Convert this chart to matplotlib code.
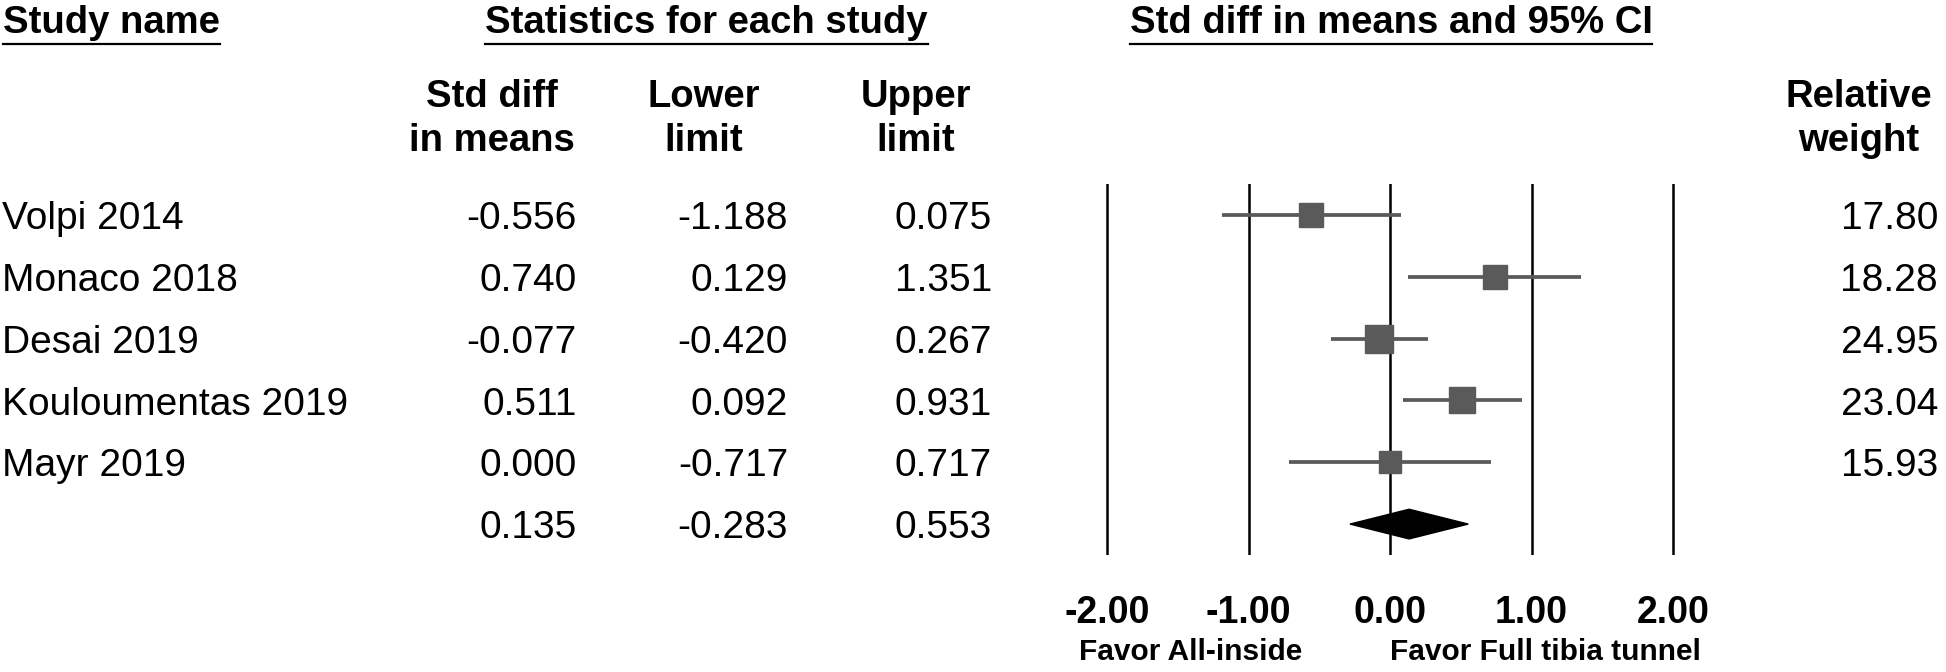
import numpy as np
import matplotlib.pyplot as plt
from matplotlib.transforms import blended_transform_factory

plt.rcParams['font.family'] = ['Liberation Sans', 'DejaVu Sans']

# data
studies = ['Volpi 2014', 'Monaco 2018', 'Desai 2019', 'Kouloumentas 2019', 'Mayr 2019']
smd = [-0.556, 0.740, -0.077, 0.511, 0.000]
lower = [-1.188, 0.129, -0.420, 0.092, -0.717]
upper = [0.075, 1.351, 0.267, 0.931, 0.717]
weights = [17.80, 18.28, 24.95, 23.04, 15.93]
pooled_est, pooled_lo, pooled_hi = 0.135, -0.283, 0.553
ticks = [-2, -1, 0, 1, 2]
tick_labels = ['-2.00', '-1.00', '0.00', '1.00', '2.00']

W, H = 1946, 672
gray = '#5a5a5a'

fig = plt.figure(figsize=(W / 100, H / 100), dpi=100)

# forest panel: zero line at 1390 px, 141.5 px per unit, rows 62 px apart
x0, ppu = 1390, 141.5
xlim = (-2.2, 2.2)
ax = fig.add_axes([(x0 + xlim[0] * ppu) / W, (H - 555) / H,
                   (xlim[1] - xlim[0]) * ppu / W, 371 / H])
ax.set_xlim(xlim)
ax.set_ylim(5.5, -0.5)
for s in ax.spines.values():
    s.set_visible(False)
ax.set_yticks([])

for t in ticks:
    ax.axvline(t, color='black', lw=1.8, zorder=1)

rows = np.arange(len(studies))
ax.hlines(rows, lower, upper, color=gray, lw=2.7, zorder=2)
for i in rows:
    side = 5.6 * np.sqrt(weights[i])  # square side in px
    ax.plot(smd[i], i, 's', ms=side * 0.72, color=gray, mec=gray, zorder=3)

srow = len(studies)
ax.fill([pooled_lo, pooled_est, pooled_hi, pooled_est],
        [srow, srow - 0.24, srow, srow + 0.24], color='black', zorder=3)

ax.set_xticks(ticks, tick_labels, fontsize=27, fontweight='bold')
ax.tick_params(axis='x', length=0, pad=29)

ax.text(-1.41, -0.262, 'Favor All-inside', transform=ax.get_xaxis_transform(),
        ha='center', va='center', fontsize=21.5, fontweight='bold')
ax.text(1.10, -0.262, 'Favor Full tibia tunnel', transform=ax.get_xaxis_transform(),
        ha='center', va='center', fontsize=21.5, fontweight='bold')

# table text, y in row units
tr = blended_transform_factory(fig.transFigure, ax.transData)
fs = 28
off = 0.228
for i, name in enumerate(studies):
    ax.text(2 / W, i + off, name, transform=tr, ha='left', va='baseline', fontsize=fs)
cols = [(smd + [pooled_est], 577), (lower + [pooled_lo], 788), (upper + [pooled_hi], 992)]
for vals, xr in cols:
    for i, v in enumerate(vals):
        ax.text(xr / W, i + off, f'{v:.3f}', transform=tr, ha='right', va='baseline', fontsize=fs)
for i, w in enumerate(weights):
    ax.text(1938 / W, i + off, f'{w:.2f}', transform=tr, ha='right', va='baseline', fontsize=fs)

# headers
hfs = 27.5
heads = [
    fig.text(3 / W, 1 - 33 / H, 'Study name', ha='left', va='baseline', fontsize=hfs, fontweight='bold'),
    fig.text(706.5 / W, 1 - 33 / H, 'Statistics for each study', ha='center', va='baseline', fontsize=hfs, fontweight='bold'),
    fig.text(1391 / W, 1 - 33 / H, 'Std diff in means and 95% CI', ha='center', va='baseline', fontsize=hfs, fontweight='bold'),
]
sub = [('Std diff', 'in means', 492), ('Lower', 'limit', 704), ('Upper', 'limit', 916), ('Relative', 'weight', 1859)]
for l1, l2, xc in sub:
    fig.text(xc / W, 1 - 107 / H, l1, ha='center', va='baseline', fontsize=hfs, fontweight='bold')
    fig.text(xc / W, 1 - 151 / H, l2, ha='center', va='baseline', fontsize=hfs, fontweight='bold')

fig.canvas.draw()
r = fig.canvas.get_renderer()
for t in heads:
    bb = t.get_window_extent(r)
    fig.add_artist(plt.Line2D([bb.x0 / W, bb.x1 / W], [1 - 44 / H, 1 - 44 / H],
                              color='black', lw=1.6, transform=fig.transFigure))

fig.savefig('out.png', dpi=100, facecolor='white')
